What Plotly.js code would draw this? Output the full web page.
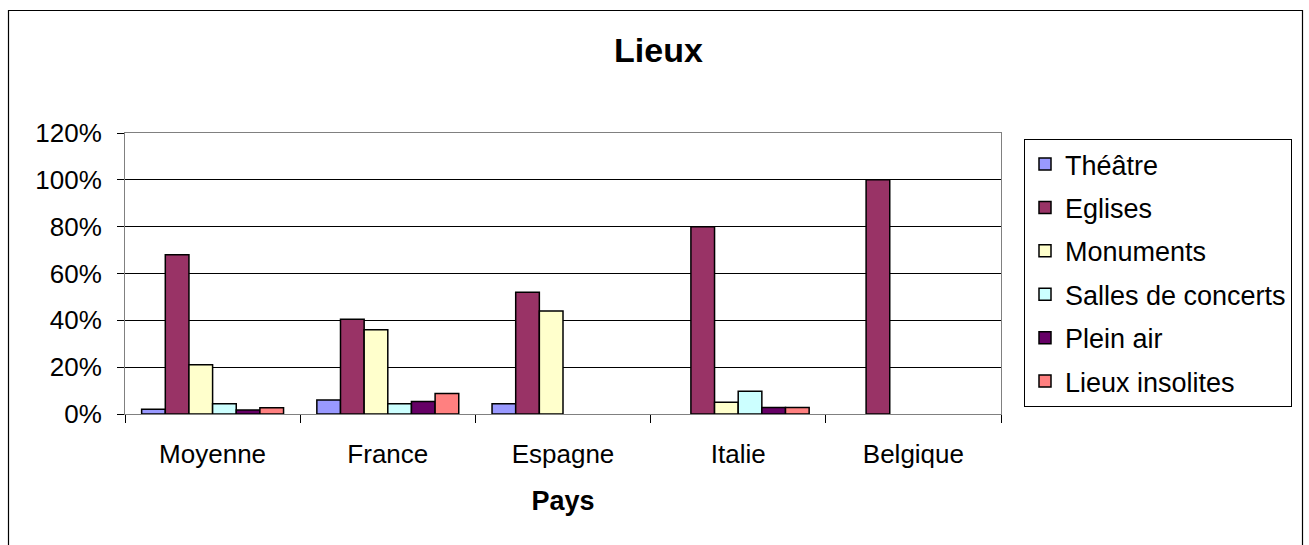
<!DOCTYPE html>
<html>
<head>
<meta charset="utf-8">
<script src="https://cdn.plot.ly/plotly-3.0.1.min.js"></script>
<style>
  html, body { margin: 0; padding: 0; background: #fff; }
  #chart { width: 1309px; height: 545px; }
</style>
</head>
<body>
<div id="chart"></div>
<script>
const categories = ['Moyenne', 'France', 'Espagne', 'Italie', 'Belgique'];
const seriesNames = ['Théâtre', 'Eglises', 'Monuments', 'Salles de concerts', 'Plein air', 'Lieux insolites'];
// null = no bar drawn in the reference
const theatre   = [0.02, 0.06, 0.044, null, null];
const eglises   = [0.68, 0.405, 0.52, 0.80, 1.00];
const monuments = [0.21, 0.36, 0.44, 0.05, null];
const salles    = [0.044, 0.044, null, 0.097, null];
const pleinAir  = [0.017, 0.053, null, 0.028, null];
const insolites = [0.027, 0.088, null, 0.028, null];
const yTickVals = [0, 0.2, 0.4, 0.6, 0.8, 1.0, 1.2];

const seriesValues = [theatre, eglises, monuments, salles, pleinAir, insolites];
const colors = ['#9999FF', '#993366', '#FFFFCC', '#CCFFFF', '#660066', '#FF8080'];

const FONT = 'Arial, "Liberation Sans", sans-serif';

const traces = seriesNames.map((name, i) => ({
  type: 'bar',
  name: name,
  legendgroup: 'g' + i,
  x: categories,
  y: seriesValues[i],
  marker: { color: colors[i], line: { color: '#000000', width: 1.5 } },
  hoverinfo: 'x+y+name'
}));

// plot area: x 125..1001, y 133..414
const L = 125, R = 1001, T = 133, B = 414, W = 1309, H = 545;
const pw = R - L, ph = B - T;
const px = v => (v - L) / pw;
const py = v => (B - v) / ph;

const layout = {
  width: W,
  height: H,
  margin: { l: L, r: W - R, t: T, b: H - B, pad: 0 },
  paper_bgcolor: '#ffffff',
  plot_bgcolor: '#ffffff',
  font: { family: FONT, size: 26, color: '#000000' },
  title: {
    text: '<b>Lieux</b>',
    font: { family: FONT, size: 34, color: '#000000' },
    xref: 'container', x: 0.503, xanchor: 'center',
    yref: 'container', y: 1 - 50 / H, yanchor: 'middle'
  },
  barmode: 'group',
  bargap: 0.19,
  bargroupgap: 0,
  xaxis: {
    type: 'category',
    showgrid: false,
    showline: true,
    linecolor: '#808080',
    linewidth: 1,
    mirror: true,
    ticks: 'outside',
    tickson: 'boundaries',
    ticklen: 8,
    tickcolor: '#000000',
    tickwidth: 1,
    ticklabelstandoff: 17,
    tickfont: { family: FONT, size: 26, color: '#000000' },
    title: { text: '<b>Pays</b>', font: { family: FONT, size: 27, color: '#000000' }, standoff: 22 },
    fixedrange: true
  },
  yaxis: {
    range: [0, 1.2],
    tickvals: yTickVals,
    tickformat: '.0%',
    showgrid: true,
    gridcolor: '#000000',
    gridwidth: 1,
    zeroline: false,
    showline: true,
    linecolor: '#808080',
    linewidth: 1,
    mirror: true,
    ticks: 'outside',
    ticklen: 7,
    tickcolor: '#000000',
    tickwidth: 1,
    ticklabelstandoff: 10,
    tickfont: { family: FONT, size: 26, color: '#000000' },
    fixedrange: true
  },
  showlegend: true,
  legend: {
    x: px(1024), xanchor: 'left',
    y: py(139), yanchor: 'top',
    bgcolor: '#ffffff',
    bordercolor: '#000000',
    borderwidth: 1,
    font: { family: FONT, size: 27, color: '#000000' },
    traceorder: 'grouped',
    tracegroupgap: 5.3,
    itemwidth: 30
  },
  shapes: [
    {
      type: 'rect', xref: 'paper', yref: 'paper',
      x0: px(8.5), x1: px(1302.5), y0: py(560), y1: py(10.5),
      line: { color: '#000000', width: 1.2 }, fillcolor: 'rgba(0,0,0,0)', layer: 'below'
    }
  ]
};

Plotly.newPlot('chart', traces, layout, { displayModeBar: false, staticPlot: false });
</script>
</body>
</html>
